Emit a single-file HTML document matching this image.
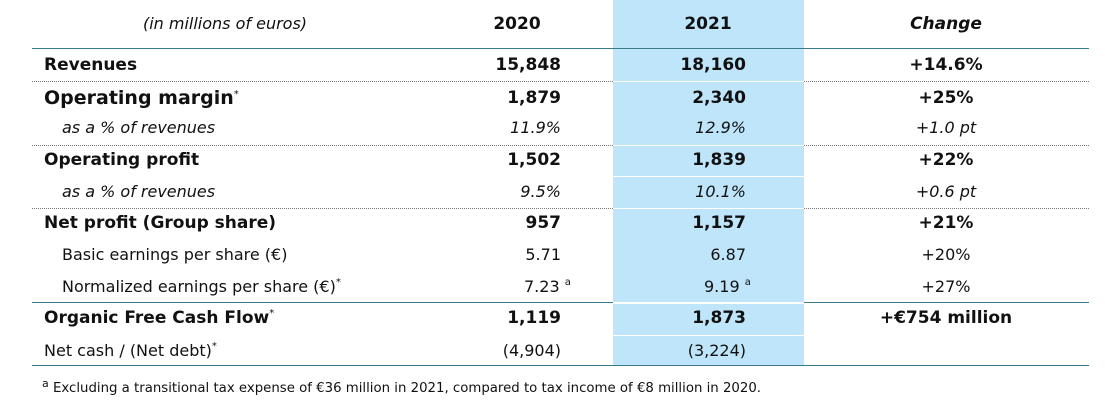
<!DOCTYPE html>
<html><head><meta charset="utf-8"><style>
body{margin:0;width:1105px;height:403px;background:#fff;position:relative;overflow:hidden;font-family:"DejaVu Sans","Liberation Sans",sans-serif;color:#111}
.t{position:absolute;white-space:nowrap;line-height:20px;transform:translateY(-10px)}
.b{font-weight:bold;font-size:17px}
.r{font-size:16px}
.i{font-style:italic;font-size:16px}
.ra{text-align:right}
.ca{text-align:center}
.h{position:absolute;left:32px;width:1057px;height:0}
.sol{border-top:1.5px solid #3a7a8c}
.dot{border-top:1px dotted #777}
.wl{position:absolute;left:613px;width:191px;height:1px;background:#fff}
sup{font-size:10px;vertical-align:baseline;position:relative;top:-7px;line-height:0;font-weight:normal}
</style></head><body>
<div style="position:absolute;left:613px;top:0;width:191px;height:366px;background:#bee5fa"></div>
<div class="h sol" style="top:48px"></div>
<div class="h dot" style="top:81px"></div>
<div class="h dot" style="top:145px"></div>
<div class="h dot" style="top:208px"></div>
<div class="h sol" style="top:302px"></div>
<div class="h sol" style="top:365px"></div>
<div class="wl" style="top:81px"></div>
<div class="wl" style="top:145px"></div>
<div class="wl" style="top:176px"></div>
<div class="wl" style="top:208px"></div>
<div class="wl" style="top:302px;height:2px"></div>
<div class="wl" style="top:335px"></div>

<div class="t i ca" style="left:100px;width:250px;top:24px">(in millions of euros)</div>
<div class="t b ca" style="left:467px;width:100px;top:24px">2020</div>
<div class="t b ca" style="left:658px;width:100px;top:24px">2021</div>
<div class="t b ca" style="left:866px;width:160px;top:24px;font-style:italic">Change</div>

<div class="t b" style="left:44px;top:65px">Revenues</div>
<div class="t b" style="left:44px;top:98px;font-size:19px">Operating margin<sup>*</sup></div>
<div class="t i" style="left:62px;top:128px">as a % of revenues</div>
<div class="t b" style="left:44px;top:160px">Operating profit</div>
<div class="t i" style="left:62px;top:192px">as a % of revenues</div>
<div class="t b" style="left:44px;top:223px">Net profit (Group share)</div>
<div class="t r" style="left:62px;top:255px">Basic earnings per share (€)</div>
<div class="t r" style="left:62px;top:287px">Normalized earnings per share (€)<sup>*</sup></div>
<div class="t b" style="left:44px;top:318px">Organic Free Cash Flow<sup>*</sup></div>
<div class="t r" style="left:44px;top:351px">Net cash / (Net debt)<sup>*</sup></div>

<div class="t b ra" style="left:400px;width:161px;top:65px">15,848</div>
<div class="t b ra" style="left:400px;width:161px;top:98px">1,879</div>
<div class="t i ra" style="left:400px;width:161px;top:128px">11.9%</div>
<div class="t b ra" style="left:400px;width:161px;top:160px">1,502</div>
<div class="t i ra" style="left:400px;width:161px;top:192px">9.5%</div>
<div class="t b ra" style="left:400px;width:161px;top:223px">957</div>
<div class="t r ra" style="left:400px;width:161px;top:255px">5.71</div>
<div class="t r" style="left:524px;top:287px">7.23 <sup>a</sup></div>
<div class="t b ra" style="left:400px;width:161px;top:318px">1,119</div>
<div class="t r ra" style="left:400px;width:161px;top:351px">(4,904)</div>

<div class="t b ra" style="left:590px;width:156px;top:65px">18,160</div>
<div class="t b ra" style="left:590px;width:156px;top:98px">2,340</div>
<div class="t i ra" style="left:590px;width:156px;top:128px">12.9%</div>
<div class="t b ra" style="left:590px;width:156px;top:160px">1,839</div>
<div class="t i ra" style="left:590px;width:156px;top:192px">10.1%</div>
<div class="t b ra" style="left:590px;width:156px;top:223px">1,157</div>
<div class="t r ra" style="left:590px;width:156px;top:255px">6.87</div>
<div class="t r" style="left:704px;top:287px">9.19 <sup>a</sup></div>
<div class="t b ra" style="left:590px;width:156px;top:318px">1,873</div>
<div class="t r ra" style="left:590px;width:156px;top:351px">(3,224)</div>

<div class="t b ca" style="left:846px;width:200px;top:65px">+14.6%</div>
<div class="t b ca" style="left:846px;width:200px;top:98px">+25%</div>
<div class="t i ca" style="left:846px;width:200px;top:128px">+1.0 pt</div>
<div class="t b ca" style="left:846px;width:200px;top:160px">+22%</div>
<div class="t i ca" style="left:846px;width:200px;top:192px">+0.6 pt</div>
<div class="t b ca" style="left:846px;width:200px;top:223px">+21%</div>
<div class="t r ca" style="left:846px;width:200px;top:255px">+20%</div>
<div class="t r ca" style="left:846px;width:200px;top:287px">+27%</div>
<div class="t b ca" style="left:846px;width:200px;top:318px">+€754 million</div>

<div class="t" style="left:42px;top:389px;font-size:13.3px"><sup style="font-size:11px;top:-5px">a</sup> Excluding a transitional tax expense of €36 million in 2021, compared to tax income of €8 million in 2020.</div>
</body></html>
